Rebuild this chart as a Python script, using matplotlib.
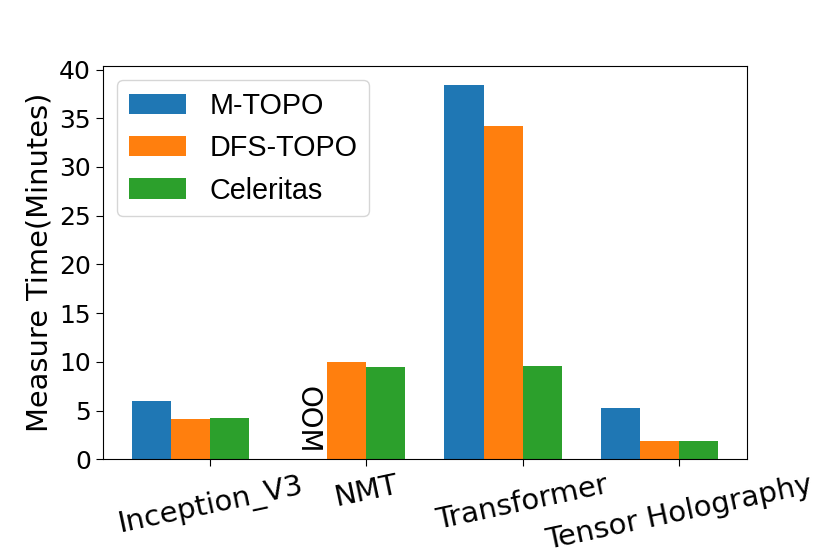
import numpy as np
import matplotlib
matplotlib.use("Agg")
import matplotlib.pyplot as plt

plt.rcParams["font.family"] = ["DejaVu Sans"]

# data (minutes)
models = ["Inception_V3", "NMT", "Transformer", "Tensor Holography"]
m_topo = [6.0, 0.0, 38.45, 5.3]      # NMT: out of memory
dfs_topo = [4.15, 10.0, 34.25, 1.85]
celeritas = [4.25, 9.45, 9.55, 1.85]
series_names = ["M-TOPO", "DFS-TOPO", "Celeritas"]
oom_label = "OOM"


def plot_results() -> None:
    fig = plt.figure(figsize=(8.3, 5.54), dpi=100)
    ax = fig.add_subplot(111)
    fig.subplots_adjust(left=0.124, right=0.9, bottom=0.171, top=0.881)

    x = np.arange(len(models))
    w = 0.25
    ax.bar(x - 1.5 * w, m_topo, w, label=series_names[0], color="#1f77b4")
    ax.bar(x - 0.5 * w, dfs_topo, w, label=series_names[1], color="#ff7f0e")
    ax.bar(x + 0.5 * w, celeritas, w, label=series_names[2], color="#2ca02c")

    # NMT has no M-TOPO bar
    ax.text(x[1] - 1.5 * w, 0.55, oom_label, rotation=270, ha="center",
            va="bottom", fontsize=20)

    ax.set_xticks(x)
    ax.set_xticklabels(models, rotation=12, fontsize=21)
    ax.tick_params(axis="y", labelsize=18)
    ax.tick_params(length=5)
    ax.set_ylabel("Measure Time(Minutes)", fontsize=20.8)
    ax.set_yticks(range(0, 41, 5))

    ax.legend(loc="upper left", prop={"family": "Liberation Sans", "size": 20.7})
    fig.savefig("out.png", dpi=100)


if __name__ == "__main__":
    plot_results()
